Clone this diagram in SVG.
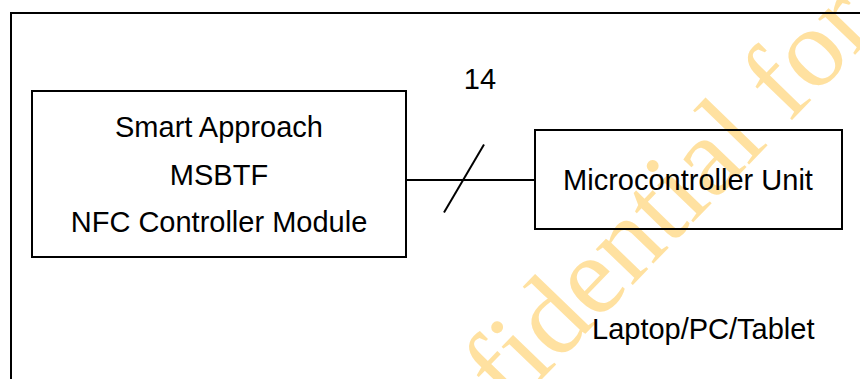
<svg xmlns="http://www.w3.org/2000/svg" width="860" height="379" viewBox="0 0 860 379">
<style>
.box{fill:none;stroke:#000;stroke-width:2}
.t{font-family:"Liberation Sans",Arial,sans-serif;font-size:29px;fill:#000}
.c{text-anchor:middle}
.wm{font-family:"Liberation Serif","Times New Roman",serif;font-size:112px;fill:#FFE1A0}
</style>
<rect width="860" height="379" fill="#fff"/>
<text class="wm" transform="translate(510,412) rotate(-46)">fidential for</text>
<g id="frame">
<polyline points="11,379 11,13 860,13" fill="none" stroke="#000" stroke-width="2"/>
<text class="t" x="592" y="339">Laptop/PC/Tablet</text>
</g>
<g id="connectors">
<line x1="406" y1="180" x2="535" y2="180" stroke="#000" stroke-width="2"/>
<line x1="444" y1="212.5" x2="484" y2="144.5" stroke="#000" stroke-width="2"/>
<text class="t c" x="480" y="89">14</text>
</g>
<g id="nfc">
<rect class="box" x="32" y="91" width="374" height="166"/>
<text class="t c" x="219" y="137">Smart Approach</text>
<text class="t c" x="219" y="185">MSBTF</text>
<text class="t c" x="219" y="232">NFC Controller Module</text>
</g>
<g id="mcu">
<rect class="box" x="535" y="130" width="307" height="99"/>
<text class="t c" x="688" y="190">Microcontroller Unit</text>
</g>
</svg>
